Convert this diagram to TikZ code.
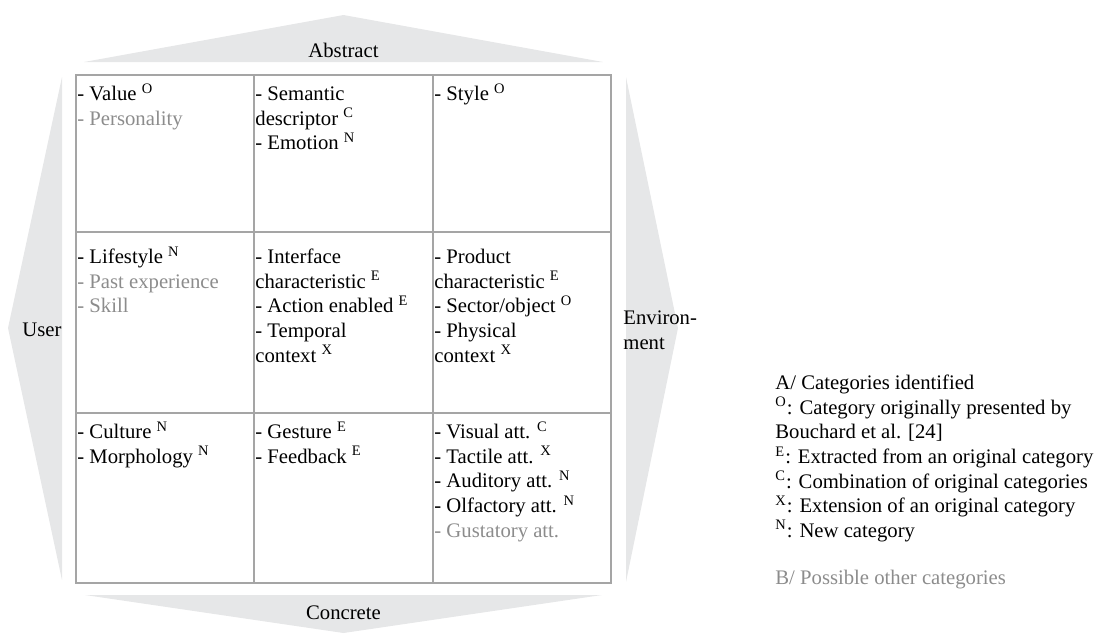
\documentclass[tikz,border=0pt]{standalone}
\usepackage{fontspec}
\setmainfont{Liberation Serif}

\definecolor{areagrey}{RGB}{230,231,232}
\definecolor{gridgrey}{RGB}{165,165,165}
\definecolor{othergrey}{RGB}{140,140,140}

\newcommand{\catmark}[1]{\textsuperscript{#1}}
\newcommand{\othercat}[1]{\textcolor{othergrey}{#1}}

\tikzset{
  area/.style={fill=areagrey},
  cell/.style={anchor=north west, align=left, inner sep=0pt},
}

\begin{document}
\begin{tikzpicture}[x=0.5pt, y=-0.5pt, font=\fontsize{10.35pt}{12.3pt}\selectfont]
\useasboundingbox (0,0) rectangle (1099,634);

% arrows round the table
\fill[area] (84,62) -- (343.5,15) -- (603,62) -- cycle;
\fill[area] (85,595) -- (343.5,633) -- (602,595) -- cycle;
\fill[area] (62,77) -- (8,328) -- (62,580) -- cycle;
\fill[area] (626,77) -- (678,328) -- (626,582) -- cycle;

% arrow labels
\node (abstract) at (343.5,50) {Abstract};
\node (concrete) at (343.5,613) {Concrete};
\node[inner sep=0pt] (user) at (42,330) {User};
\node[anchor=west, align=left, inner sep=0pt] (environment) at (623,330) {Environ-\\ment};

% table
\draw[gridgrey, line width=0.8pt] (76,75) rectangle (611,583)
      (254,75) -- (254,583)
      (433,75) -- (433,583)
      (76,232) -- (611,232)
      (76,413) -- (611,413);

% first row
\node[cell] (value) at (77,83) {\strut- Value \catmark{O}\\ \othercat{- Personality}};
\node[cell] (semantic) at (255,83) {\strut- Semantic\\ descriptor \catmark{C}\\ - Emotion \catmark{N}};
\node[cell] (style) at (434,83) {\strut- Style \catmark{O}};

% second row
\node[cell] (lifestyle) at (77,246) {\strut- Lifestyle \catmark{N}\\ \othercat{- Past experience}\\ \othercat{- Skill}};
\node[cell] (interface) at (255,246) {\strut- Interface\\ characteristic \catmark{E}\\ - Action enabled \catmark{E}\\ - Temporal\\ context \catmark{X}};
\node[cell] (product) at (434,246) {\strut- Product\\ characteristic \catmark{E}\\ - Sector/object \catmark{O}\\ - Physical\\ context \catmark{X}};

% third row
\node[cell] (culture) at (77,421) {\strut- Culture \catmark{N}\\ - Morphology \catmark{N}};
\node[cell] (gesture) at (255,421) {\strut- Gesture \catmark{E}\\ - Feedback \catmark{E}};
\node[cell] (visual) at (434,421) {\strut- Visual att. \catmark{C}\\ - Tactile att. \catmark{X}\\ - Auditory att. \catmark{N}\\ - Olfactory att. \catmark{N}\\ \othercat{- Gustatory att.}};

% legend
\node[cell] (legendA) at (775,372) {\strut A/ Categories identified\\
  \catmark{O}: Category originally presented by\\
  Bouchard et al. [24]\\
  \catmark{E}: Extracted from an original category\\
  \catmark{C}: Combination of original categories\\
  \catmark{X}: Extension of an original category\\
  \catmark{N}: New category};
\node[cell, text=othergrey] (legendB) at (775,567) {\strut B/ Possible other categories};

\end{tikzpicture}
\end{document}
